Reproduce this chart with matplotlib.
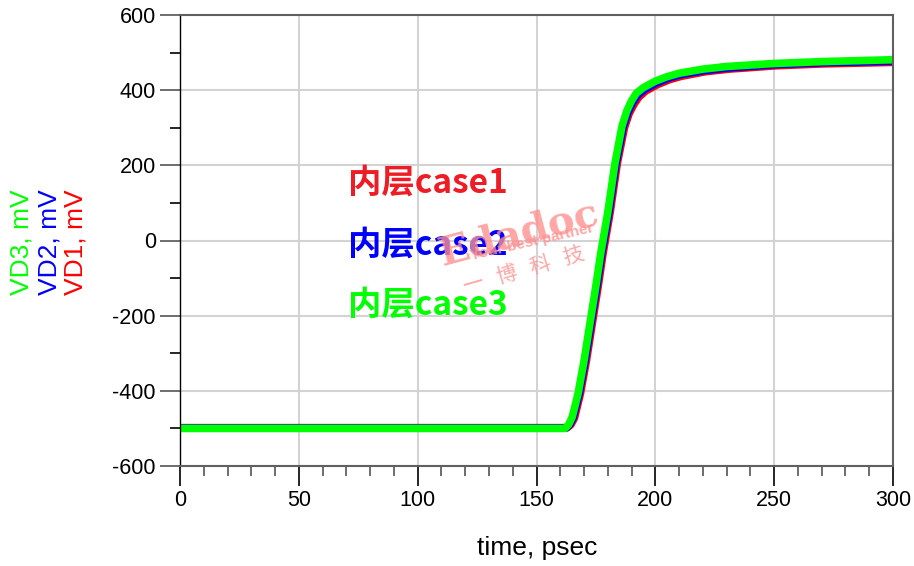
import matplotlib
matplotlib.use("Agg")
import matplotlib.pyplot as plt
from matplotlib.ticker import MultipleLocator

plt.rcParams['font.family'] = ['Liberation Sans', 'Noto Sans CJK SC', 'DejaVu Sans']
plt.rcParams['axes.unicode_minus'] = False

# time axis, psec
t_green = [0, 160, 162, 163.5, 165, 167.5, 170, 172, 175, 177, 180, 183, 186, 188, 190, 192, 195, 200, 205, 210, 220, 230, 250, 270, 300]
vd3 = [-500, -500, -500, -490, -470, -407, -320, -240, -120, -35, 75, 205, 305, 345, 372, 392, 407, 424, 436, 445, 456, 463, 471, 476, 481]
t_blue = [0, 160.5, 162.5, 164, 165.5, 168, 170.5, 172.5, 175.5, 177.5, 180.5, 183.5, 186.5, 188.5, 190.5, 192.5, 195.5, 200.5, 205.5, 210.5, 220.5, 230.5, 250.5, 270.5, 300]
vd2 = [-499, -499, -499, -490, -471, -407, -320, -240, -120, -35, 75, 205, 302, 341, 367, 386, 402, 419, 432, 441, 452, 459, 468, 473, 477]
t_red = [0, 161, 163, 164.5, 166, 168.5, 171, 173, 176, 178, 181, 184, 187, 189, 191, 193, 196, 201, 206, 211, 221, 231, 251, 271, 300]
vd1 = [-498, -498, -498, -490, -472, -407, -320, -240, -120, -35, 75, 205, 300, 338, 362, 381, 398, 415, 428, 437, 449, 456, 465, 470, 474]

case_labels = ['内层case1', '内层case2', '内层case3']
case_colors = ['#ee1c25', '#0000ff', '#00ff00']
label_y = [153, -12, -172]

fig = plt.figure(figsize=(9.14, 5.66), dpi=100)
ax = fig.add_axes([180/914, 1-466/566, (893-180)/914, (466-15)/566])

ax.plot(t_red, vd1, color='#ff0000', lw=5.5, solid_joinstyle='round')
ax.plot(t_blue, vd2, color='#0000ff', lw=5.5, solid_joinstyle='round')
ax.plot(t_green, vd3, color='#00ff00', lw=5.5, solid_joinstyle='round')

ax.set_xlim(0, 300)
ax.set_ylim(-600, 600)
ax.xaxis.set_major_locator(MultipleLocator(50))
ax.xaxis.set_minor_locator(MultipleLocator(10))
ax.yaxis.set_major_locator(MultipleLocator(200))
ax.yaxis.set_minor_locator(MultipleLocator(100))
ax.grid(True, which='major', color='#d3d3d3', lw=1.5)
ax.set_axisbelow(True)

ax.tick_params(axis='both', which='major', direction='out', length=14.4, width=1.2, labelsize=15.5, pad=3)
ax.tick_params(axis='both', which='minor', direction='out', length=7.2, width=1.2)
ax.tick_params(axis='y', which='major', color='#555555')
ax.tick_params(axis='y', which='minor', color='black')
ax.tick_params(axis='x', which='major', color='black')
ax.tick_params(axis='x', which='minor', color='#555555')

for s in ['top', 'right', 'bottom']:
    ax.spines[s].set_color('#606060')
    ax.spines[s].set_linewidth(1.5)
ax.spines['left'].set_color('black')
ax.spines['left'].set_linewidth(1.0)

# case labels
for lab, c, y in zip(case_labels, case_colors, label_y):
    ax.text(70.7, y, lab, color=c, fontsize=24, fontweight='bold',
            family=['Noto Sans CJK SC'], ha='left', va='center')

# watermark
wm = '#ff9090'
fig.text(518/914, 1-234/566, 'Edadoc', color=wm, fontsize=29, fontweight='bold',
         family=['DejaVu Serif'], rotation=15, ha='center', va='center', alpha=0.8)
fig.text(532/914, 1-242/566, 'Your best partner', color=wm, fontsize=11, fontweight='bold',
         rotation=13, ha='center', va='center', alpha=0.8)
fig.text(524/914, 1-270/566, '一   博   科   技', color=wm, fontsize=15,
         family=['Noto Sans CJK SC'], rotation=16, ha='center', va='center', alpha=0.8)

# stacked y labels
for x, txt, c in [(22, 'VD3, mV', '#00ff00'), (50, 'VD2, mV', '#0000ff'), (76, 'VD1, mV', '#ff0000')]:
    fig.text(x/914, 1-242/566, txt, color=c, fontsize=19, rotation=90, ha='center', va='center')

fig.text(537/914, 1-548/566, 'time, psec', fontsize=19, ha='center', va='center')

fig.savefig('out.png', dpi=100)
